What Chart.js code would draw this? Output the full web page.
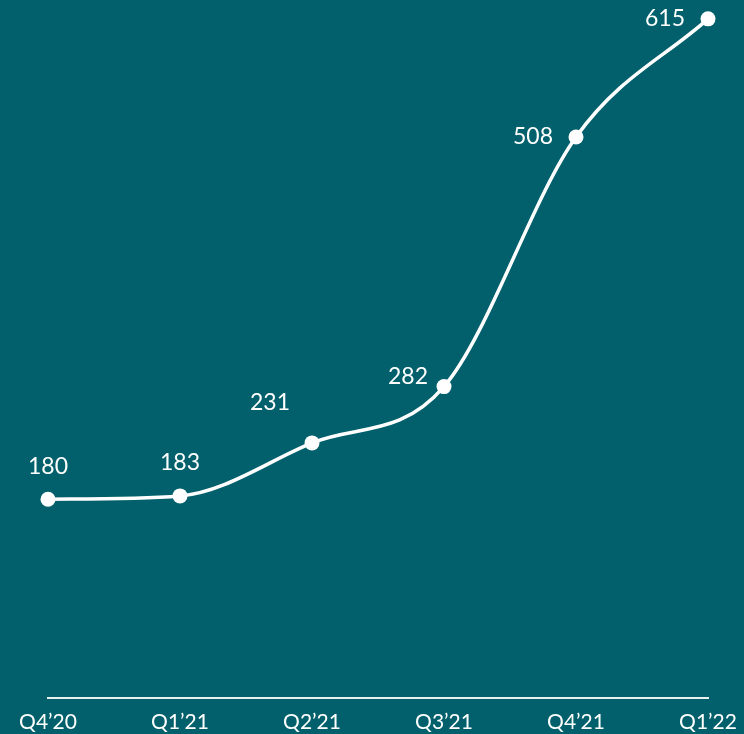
<!DOCTYPE html>
<html>
<head>
<meta charset="utf-8">
<script src="https://cdn.jsdelivr.net/npm/chart.js@4/dist/chart.umd.min.js"></script>
<style>
  html, body { margin: 0; padding: 0; background: #01606B; }
  canvas { display: block; }
</style>
</head>
<body>
<canvas id="c" width="744" height="734"></canvas>
<script>
const categories = ["Q4\u201920", "Q1\u201921", "Q2\u201921", "Q3\u201921", "Q4\u201921", "Q1\u201922"];
const values = [180, 183, 231, 282, 508, 615];
// label placement relative to each point
const labelPlacement = ["top", "top", "topleft", "upleft", "left", "left"];

const BG = "#01606B";
const FG = "#ffffff";

const valueLabels = {
  id: "valueLabels",
  afterDatasetsDraw(chart) {
    const ctx = chart.ctx;
    const meta = chart.getDatasetMeta(0);
    ctx.save();
    ctx.fillStyle = FG;
    ctx.font = "400 23px Lato";
    meta.data.forEach((pt, i) => {
      const p = labelPlacement[i];
      const txt = String(values[i]);
      if (p === "top") {
        ctx.textAlign = "center"; ctx.textBaseline = "middle";
        ctx.fillText(txt, pt.x, pt.y - 33);
      } else if (p === "topleft") {
        ctx.textAlign = "center"; ctx.textBaseline = "middle";
        ctx.fillText(txt, pt.x - 42, pt.y - 40);
      } else if (p === "upleft") {
        ctx.textAlign = "right"; ctx.textBaseline = "middle";
        ctx.fillText(txt, pt.x - 16, pt.y - 10);
      } else {
        ctx.textAlign = "right"; ctx.textBaseline = "middle";
        ctx.fillText(txt, pt.x - 23, pt.y);
      }
    });
    ctx.restore();
  }
};

new Chart(document.getElementById("c"), {
  type: "line",
  data: {
    labels: categories,
    datasets: [{
      data: values,
      borderColor: FG,
      borderWidth: 3.5,
      backgroundColor: FG,
      pointBackgroundColor: FG,
      pointBorderColor: FG,
      pointRadius: 7.5,
      pointBorderWidth: 0,
      cubicInterpolationMode: "monotone",
      clip: false,
      fill: false
    }]
  },
  options: {
    responsive: false,
    animation: false,
    events: [],
    layout: { padding: { left: 48, right: 36, top: 10, bottom: 0 } },
    plugins: { legend: { display: false }, tooltip: { enabled: false } },
    scales: {
      x: {
        offset: false,
        grid: { display: false, drawTicks: false },
        border: { display: true, color: "#e8f0f0", width: 2 },
        ticks: { color: FG, font: { family: "Lato", size: 21 }, padding: 12, maxRotation: 0, autoSkip: false },
        afterFit: s => { s.paddingLeft = 0; s.paddingRight = 0; s.height = 36; }
      },
      y: {
        display: false,
        min: 0,
        max: 623
      }
    }
  },
  plugins: [valueLabels]
});
</script>
</body>
</html>
